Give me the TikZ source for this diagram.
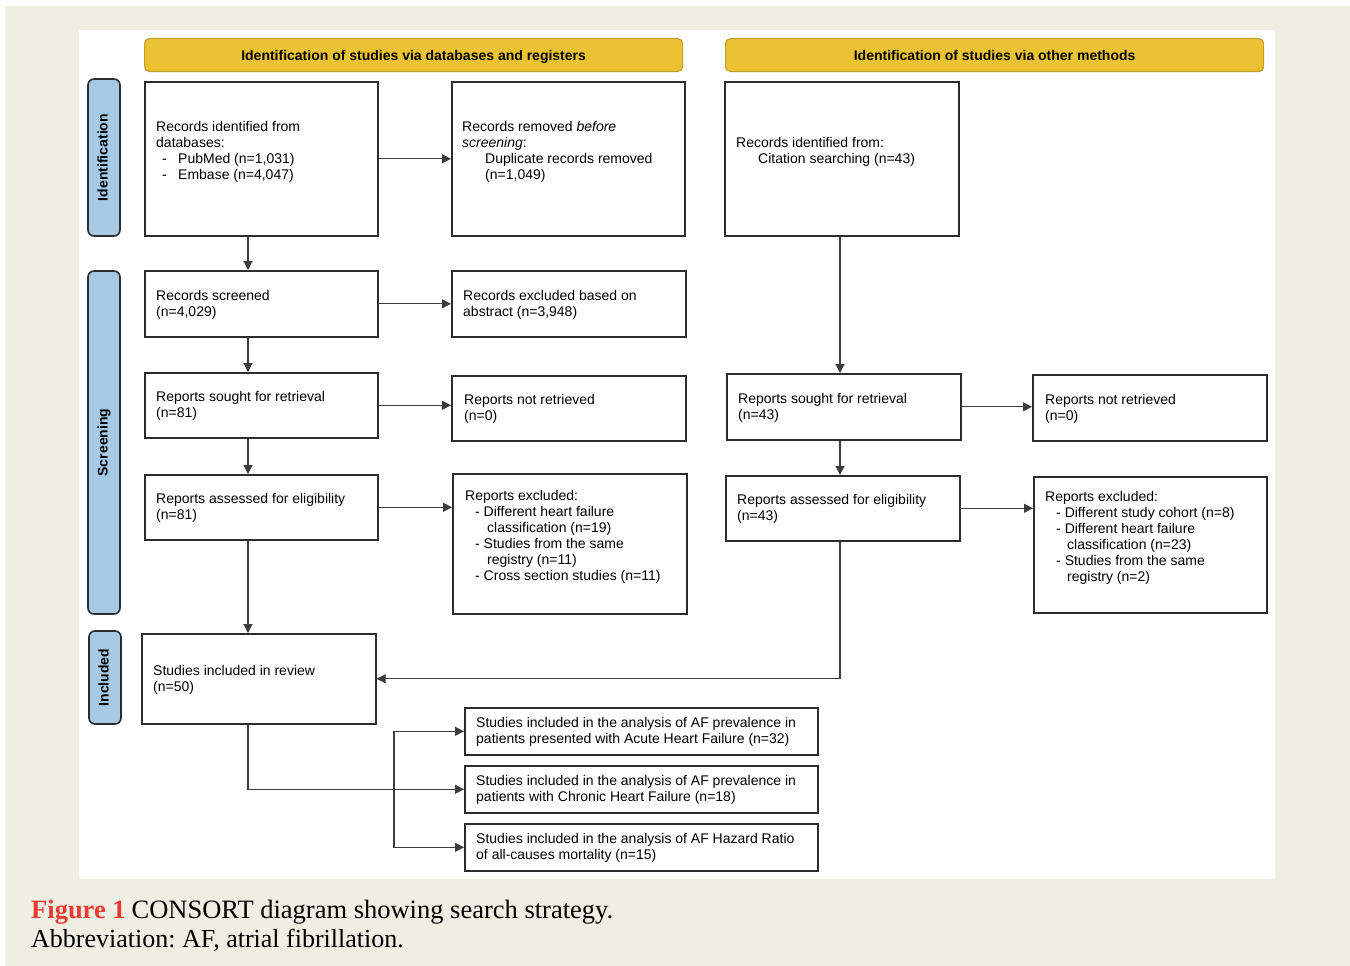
\documentclass[tikz,border=0pt]{standalone}
\usepackage{fontspec}
\setmainfont{Liberation Sans}
\newfontfamily\capfont{Liberation Serif}
\usetikzlibrary{arrows.meta}
\definecolor{bgbeige}{RGB}{239,238,227}
\definecolor{hdryellow}{RGB}{234,194,51}
\definecolor{hdrborder}{RGB}{196,158,42}
\definecolor{sideblue}{RGB}{166,201,229}
\definecolor{figred}{RGB}{232,60,50}
\definecolor{linegray}{RGB}{60,60,60}
\definecolor{boxgray}{RGB}{45,45,45}
\begin{document}
\frenchspacing
\begin{tikzpicture}[x=1pt,y=-1pt,
  box/.style={draw=boxgray, line width=1.6pt, fill=white, anchor=north west, inner sep=0pt},
  txt/.style={anchor=west, align=left, inner sep=0pt, yshift=-1pt, font=\fontsize{14}{16}\selectfont},
  arr/.style={draw=linegray, line width=1.1pt, -{Triangle[length=9pt,width=9pt]}},
  hdr/.style={draw=hdrborder, fill=hdryellow, rounded corners=5pt, line width=1.2pt, anchor=north west, inner sep=0pt, text height=12pt, text depth=1pt, font=\bfseries\fontsize{14}{16}\selectfont},
  side/.style={draw=boxgray, fill=sideblue, rounded corners=6pt, line width=1.6pt, anchor=center, inner sep=0pt, rotate=90, text height=10pt, text depth=3pt, font=\bfseries\fontsize{14}{16}\selectfont},
  captxt/.style={anchor=base west, inner sep=0pt}
]
\useasboundingbox (0,0) rectangle (1350,966);
\fill[white] (0,0) rectangle (1350,966);
\fill[bgbeige] (5,6) rectangle (1350,966);
\fill[white] (79,30) rectangle (1275,879);

% headers
\node[hdr, minimum width=538pt, minimum height=33pt] (H1) at (144,38) {Identification of studies via databases and registers};
\node[hdr, minimum width=538pt, minimum height=33pt] (H2) at (725,38) {Identification of studies via other methods};

% side labels
\node[side, minimum width=157pt, minimum height=32pt] (S1) at (104,157.5) {Identification};
\node[side, minimum width=343pt, minimum height=32pt] (S2) at (104,442.5) {Screening};
\node[side, minimum width=93pt, minimum height=32pt] (S3) at (105,677.5) {Included};

% boxes
\node[box, minimum width=233pt, minimum height=154pt] (A) at (144,81) {};
\node[txt] (At) at ([xshift=12pt,yshift=8pt]A.west) {Records identified from\\databases:\\\hspace*{6pt}\makebox[16pt][l]{-}PubMed (n=1,031)\\\hspace*{6pt}\makebox[16pt][l]{-}Embase (n=4,047)};

\node[box, minimum width=233pt, minimum height=154pt] (B) at (451,81) {};
\node[txt] (Bt) at ([xshift=11pt,yshift=8pt]B.west) {Records removed \textit{before}\\\textit{screening}:\\\hspace*{23pt}Duplicate records removed\\\hspace*{23pt}(n=1,049)};

\node[box, minimum width=234pt, minimum height=154pt] (C) at (724,81) {};
\node[txt] (Ct) at ([xshift=12pt,yshift=8pt]C.west) {Records identified from:\\\hspace*{22pt}Citation searching (n=43)};

\node[box, minimum width=233pt, minimum height=66pt] (D) at (144,270) {};
\node[txt] (Dt) at ([xshift=12pt]D.west) {Records screened\\(n=4,029)};

\node[box, minimum width=234pt, minimum height=66pt] (E) at (451,270) {};
\node[txt] (Et) at ([xshift=12pt]E.west) {Records excluded based on\\abstract (n=3,948)};

\node[box, minimum width=233pt, minimum height=65pt] (F) at (144,372) {};
\node[txt] (Ft) at ([xshift=12pt]F.west) {Reports sought for retrieval\\(n=81)};

\node[box, minimum width=234pt, minimum height=65pt] (G) at (451,375) {};
\node[txt] (Gt) at ([xshift=13pt]G.west) {Reports not retrieved\\(n=0)};

\node[box, minimum width=233pt, minimum height=65pt] (Hb) at (144,474) {};
\node[txt] (Ht) at ([xshift=12pt]Hb.west) {Reports assessed for eligibility\\(n=81)};

\node[box, minimum width=234pt, minimum height=140pt] (I) at (452,473) {};
\node[txt] (It) at ([xshift=13pt,yshift=8pt]I.west) {Reports excluded:\\\hspace*{10pt}- Different heart failure\\\hspace*{22pt}classification (n=19)\\\hspace*{10pt}- Studies from the same\\\hspace*{22pt}registry (n=11)\\\hspace*{10pt}- Cross section studies (n=11)};

\node[box, minimum width=234pt, minimum height=66pt] (J) at (726,373) {};
\node[txt] (Jt) at ([xshift=12pt]J.west) {Reports sought for retrieval\\(n=43)};

\node[box, minimum width=234pt, minimum height=66pt] (K) at (1032,374) {};
\node[txt] (Kt) at ([xshift=13pt]K.west) {Reports not retrieved\\(n=0)};

\node[box, minimum width=234pt, minimum height=65pt] (L) at (725,475) {};
\node[txt] (Lt) at ([xshift=12pt]L.west) {Reports assessed for eligibility\\(n=43)};

\node[box, minimum width=233pt, minimum height=136pt] (M) at (1033,476) {};
\node[txt] (Mt) at ([xshift=12pt,yshift=8pt]M.west) {Reports excluded:\\\hspace*{11pt}- Different study cohort (n=8)\\\hspace*{11pt}- Different heart failure\\\hspace*{22pt}classification (n=23)\\\hspace*{11pt}- Studies from the same\\\hspace*{22pt}registry (n=2)};

\node[box, minimum width=234pt, minimum height=90pt] (N) at (141,633) {};
\node[txt] (Nt) at ([xshift=12pt]N.west) {Studies included in review\\(n=50)};

\node[box, minimum width=353pt, minimum height=47pt] (O1) at (464,707) {};
\node[txt] (O1t) at ([xshift=12pt]O1.west) {Studies included in the analysis of AF prevalence in\\patients presented with Acute Heart Failure (n=32)};

\node[box, minimum width=353pt, minimum height=47pt] (O2) at (464,765) {};
\node[txt] (O2t) at ([xshift=12pt]O2.west) {Studies included in the analysis of AF prevalence in\\patients with Chronic Heart Failure (n=18)};

\node[box, minimum width=353pt, minimum height=47pt] (O3) at (464,823) {};
\node[txt] (O3t) at ([xshift=12pt]O3.west) {Studies included in the analysis of AF Hazard Ratio\\of all-causes mortality (n=15)};

% helper coordinates
\coordinate (lx) at (248,0);
\coordinate (rx) at (840,0);
\coordinate (bx) at (394,0);

% connectors
\draw[arr] (A.east) -- (B.west);
\draw[arr] (A.south -| lx) -- (D.north -| lx);
\draw[arr] (D.east) -- (E.west);
\draw[arr] (D.south -| lx) -- (F.north -| lx);
\draw[arr] (F.east) -- (F.east -| G.west);
\draw[arr] (F.south -| lx) -- (Hb.north -| lx);
\draw[arr] (Hb.east) -- (Hb.east -| I.west);
\draw[arr] (Hb.south -| lx) -- (N.north -| lx);
\draw[arr] (C.south -| rx) -- (J.north -| rx);
\draw[arr] (J.east) -- (J.east -| K.west);
\draw[arr] (J.south -| rx) -- (L.north -| rx);
\draw[arr] (L.east) -- (L.east -| M.west);
\draw[arr] (L.south -| rx) |- (N.east);
\draw[arr] (N.south -| lx) |- (O2.west);
\draw[arr] (O2.west -| bx) |- (O1.west);
\draw[arr] (O2.west -| bx) |- (O3.west);

% caption
\node[captxt, font=\capfont\fontsize{26.5}{30}\selectfont] (cap1) at (31,918) {\textcolor{figred}{\bfseries Figure 1}\hspace{6pt}CONSORT diagram showing search strategy.};
\node[captxt, font=\capfont\fontsize{26}{30}\selectfont] (cap2) at (31,947) {Abbreviation: AF, atrial fibrillation.};
\end{tikzpicture}
\end{document}
